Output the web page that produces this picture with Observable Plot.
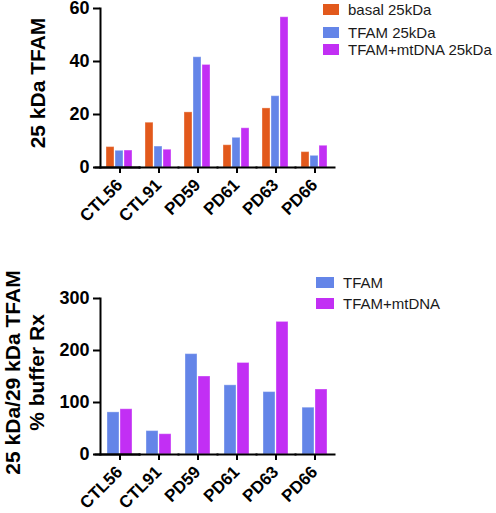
<!DOCTYPE html>
<html><head><meta charset="utf-8">
<script src="https://cdn.jsdelivr.net/npm/d3@7"></script>
<script src="https://cdn.jsdelivr.net/npm/@observablehq/plot@0.6"></script>
<style>
body{margin:0;background:#fff;font-family:"Liberation Sans",Arial,sans-serif;}
#wrap{position:relative;width:496px;height:513px;overflow:hidden;background:#fff;}
.panel{position:absolute;left:0;overflow:visible;}
.row{position:absolute;display:flex;align-items:center;white-space:nowrap;font-size:15px;color:#1a1a1a;}
.sw{display:inline-block;margin-right:9px;}
</style></head><body><div id="wrap"></div>
<script>
// ---- data ----
const samples = ["CTL56", "CTL91", "PD59", "PD61", "PD63", "PD66"];
const seriesTop = ["basal 25kDa", "TFAM 25kDa", "TFAM+mtDNA 25kDa"];
const basal25 = [7.7, 16.9, 20.8, 8.4, 22.3, 5.8];
const tfam25 = [6.3, 7.9, 41.6, 11.2, 26.9, 4.4];
const tfamMt25 = [6.4, 6.7, 38.7, 14.8, 56.7, 8.2];
const seriesBottom = ["TFAM", "TFAM+mtDNA"];
const ratioTfam = [81, 45, 193, 133, 120, 90];
const ratioTfamMt = [87, 39, 150, 176, 255, 125];
const yTicksTop = [0, 20, 40, 60];
const yTicksBottom = [0, 100, 200, 300];
const yLabelTop = "25 kDa TFAM";
const yLabelBottom = "25 kDa/29 kDa TFAM\n% buffer Rx";
const colorsTop = ["#e2591c", "#6485e8", "#c22ff4"];
const colorsBottom = ["#6485e8", "#c22ff4"];

const topRows = samples.flatMap((s, i) =>
  [basal25, tfam25, tfamMt25].map((arr, j) => ({sample: s, series: seriesTop[j], value: arr[i]})));
const bottomRows = samples.flatMap((s, i) =>
  [ratioTfam, ratioTfamMt].map((arr, j) => ({sample: s, series: seriesBottom[j], value: arr[i]})));

const FONT = "'Liberation Sans', Arial, Helvetica, sans-serif";

function panel({rows, series, colors, yDomain, yTicks, yLabel, height, marginTop, marginBottom, xPadOuter, xPadInner, labelDx, labelDy}) {
  return Plot.plot({
    width: 496, height, marginLeft: 98, marginRight: 161, marginTop, marginBottom,
    style: {fontFamily: FONT, fontSize: "18px", fontWeight: "bold", color: "#000", background: "transparent", overflow: "visible"},
    fx: {domain: samples, paddingInner: 0, paddingOuter: 0, label: null},
    x: {domain: series, paddingInner: xPadInner, paddingOuter: xPadOuter, axis: null},
    y: {domain: yDomain, label: null},
    color: {domain: series, range: colors},
    marks: [
      Plot.barY(rows, {fx: "sample", x: "series", y: "value", fill: "series", stroke: "white", strokeOpacity: 0.35, strokeWidth: 1}),
      Plot.frame({anchor: "left", facetAnchor: "left", stroke: "#000", strokeWidth: 2}),
      Plot.frame({anchor: "bottom", stroke: "#000", strokeWidth: 2}),
      Plot.frame({anchor: "bottom", facetAnchor: "left", insetLeft: -5, stroke: "#000", strokeWidth: 2}),
      Plot.axisY({ticks: yTicks, tickSize: 7, tickPadding: 4, strokeWidth: 2, fontSize: 18, fontWeight: "bold", label: null}),
      Plot.axisFx({anchor: "bottom", tickSize: 6, strokeWidth: 2, tickFormat: () => "", label: null}),
      Plot.text(samples, {fx: d => d, text: d => d, frameAnchor: "bottom", rotate: -45, textAnchor: "end", lineAnchor: "top",
        dx: -5, dy: 10, fontSize: 17, fontWeight: "bold", fill: "#000"}),
      Plot.text([yLabel], {frameAnchor: "left", facetAnchor: "left", rotate: -90, dx: labelDx, dy: labelDy,
        text: d => d, fontSize: 21, fontWeight: "bold", lineAnchor: "middle", textAnchor: "middle", lineHeight: 1.15, fill: "#000"})
    ]
  });
}

const wrap = document.getElementById("wrap");

const p1 = panel({rows: topRows, series: seriesTop, colors: colorsTop, yDomain: [0, 60], yTicks: yTicksTop, yLabel: yLabelTop,
  height: 240, marginTop: 8, marginBottom: 73, xPadOuter: 0.5, xPadInner: 0.07, labelDx: -63, labelDy: -5});
p1.classList.add("panel"); p1.style.top = "0px";
wrap.appendChild(p1);

const p2 = panel({rows: bottomRows, series: seriesBottom, colors: colorsBottom, yDomain: [0, 300], yTicks: yTicksBottom, yLabel: yLabelBottom,
  height: 273, marginTop: 58, marginBottom: 59, xPadOuter: 0.52, xPadInner: 0.08, labelDx: -76, labelDy: -4});
p2.classList.add("panel"); p2.style.top = "240px";
wrap.appendChild(p2);

function legend(series, colors, {left, tops, swW, swH}) {
  series.forEach((name, i) => {
    const row = document.createElement("div");
    row.className = "row";
    row.style.left = left + "px";
    row.style.top = tops[i] + "px";
    row.style.height = "16px";
    const sw = document.createElement("span");
    sw.className = "sw";
    sw.style.width = swW + "px"; sw.style.height = swH + "px"; sw.style.background = colors[i];
    const t = document.createElement("span");
    t.textContent = name;
    row.appendChild(sw); row.appendChild(t);
    wrap.appendChild(row);
  });
}
legend(seriesTop, colorsTop, {left: 323, tops: [1, 24, 41], swW: 16, swH: 11});
legend(seriesBottom, colorsBottom, {left: 316, tops: [274, 295], swW: 18, swH: 11});
</script></body></html>
